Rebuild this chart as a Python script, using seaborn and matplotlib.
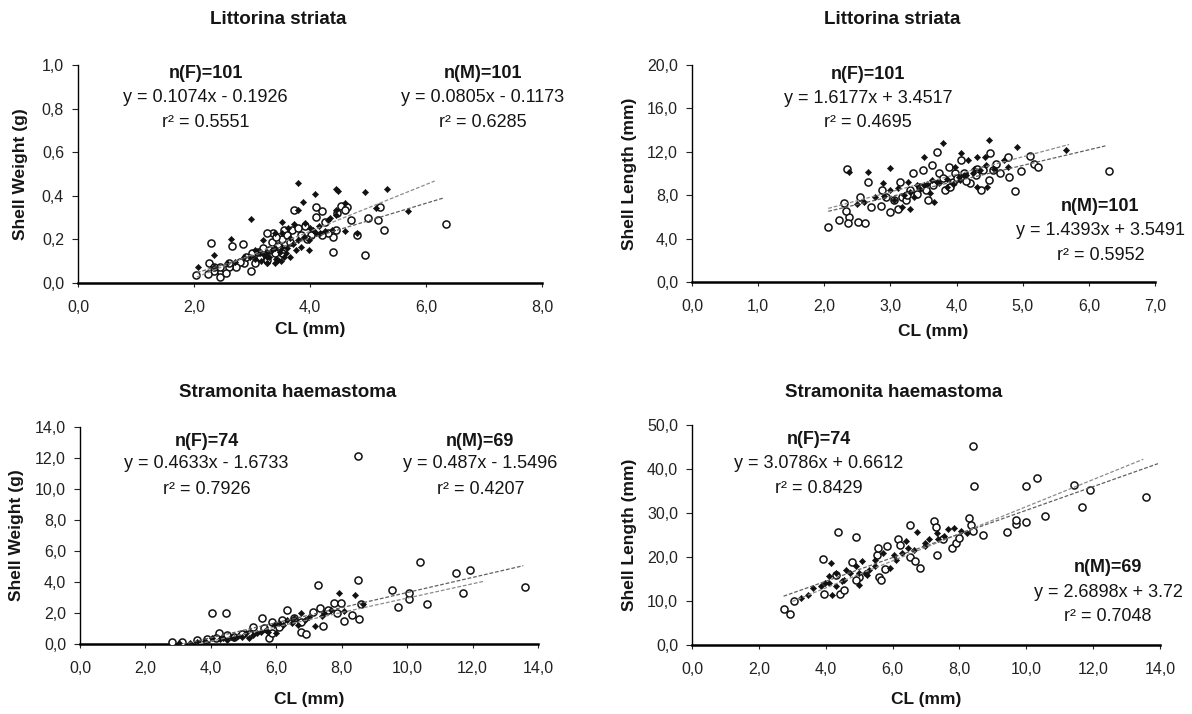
import numpy as np
import pandas as pd
import matplotlib
matplotlib.use("Agg")
import matplotlib.pyplot as plt
from matplotlib.ticker import FuncFormatter, MultipleLocator
import seaborn as sns

sns.set_theme(style="white")
plt.rcParams['font.family'] = ['Liberation Sans', 'DejaVu Sans']

# ---------------- DATA ----------------
# Panel A: Littorina striata, shell weight (g) vs CL (mm)
ls_w_M_x = [2.04, 2.26, 2.30, 2.34, 2.24, 2.47, 2.53, 2.65, 2.84, 2.86, 2.99, 3.05, 3.13, 3.26, 3.34, 3.36,
            3.52, 3.55, 3.72, 3.69, 3.85, 3.92, 4.10, 4.21, 4.25, 4.40, 4.40, 4.44, 4.47, 4.53, 4.64, 4.71,
            4.81, 4.94, 5.00, 5.17, 5.27, 5.20, 6.35, 4.61, 4.31, 3.42, 3.19, 3.65, 2.80, 2.73, 2.60, 2.44,
            2.60, 4.02, 4.11, 3.26, 3.52, 3.00, 3.39, 2.44, 3.10, 3.30, 3.45, 3.60, 3.80, 3.95, 4.20, 2.90,
            2.55, 2.35]
ls_w_M_y = [0.035, 0.09, 0.185, 0.055, 0.043, 0.05, 0.066, 0.17, 0.178, 0.09, 0.056, 0.09, 0.12, 0.105, 0.19, 0.23,
            0.20, 0.244, 0.333, 0.244, 0.22, 0.26, 0.35, 0.33, 0.28, 0.21, 0.14, 0.244, 0.32, 0.352, 0.35, 0.29,
            0.22, 0.13, 0.30, 0.29, 0.244, 0.35, 0.27, 0.336, 0.228, 0.213, 0.16, 0.19, 0.097, 0.074, 0.074, 0.074,
            0.09, 0.22, 0.305, 0.228, 0.136, 0.136, 0.136, 0.028, 0.14, 0.15, 0.17, 0.22, 0.25, 0.20, 0.22, 0.12,
            0.045, 0.075]
ls_w_F_x = [2.07, 2.34, 2.63, 2.98, 3.06, 3.26, 3.39, 3.52, 3.65, 3.80, 3.88, 3.80, 3.98, 4.08, 4.44, 4.49,
            4.61, 4.61, 4.94, 5.33, 5.69, 5.13, 3.62, 3.72, 3.92, 4.05, 4.18, 4.31, 3.52, 3.39, 3.26, 3.13,
            3.59, 3.85, 2.96, 2.86, 2.70, 2.57, 2.34, 3.26, 3.45, 3.65, 3.79, 3.98, 4.11, 4.38, 4.44, 3.39,
            3.19, 3.52, 4.81, 3.05, 3.15, 3.20, 3.30, 3.35, 3.42, 3.48, 3.55, 3.60, 3.70, 3.75, 3.90, 4.00,
            4.15, 4.25, 4.35, 4.45, 3.10, 3.25, 3.50]
ls_w_F_y = [0.074, 0.128, 0.20, 0.293, 0.15, 0.12, 0.09, 0.282, 0.12, 0.46, 0.37, 0.336, 0.15, 0.406, 0.432, 0.424,
            0.367, 0.24, 0.417, 0.432, 0.33, 0.344, 0.252, 0.272, 0.275, 0.244, 0.228, 0.29, 0.167, 0.159, 0.144, 0.136,
            0.136, 0.167, 0.12, 0.12, 0.097, 0.09, 0.074, 0.09, 0.105, 0.205, 0.198, 0.198, 0.228, 0.244, 0.336, 0.228,
            0.198, 0.228, 0.228, 0.11, 0.10, 0.13, 0.12, 0.15, 0.11, 0.14, 0.12, 0.16, 0.18, 0.15, 0.21, 0.25,
            0.26, 0.24, 0.30, 0.31, 0.14, 0.09, 0.10]

# Panel B: Littorina striata, shell length (mm) vs CL (mm)
ls_l_M_x = [2.06, 2.23, 2.30, 2.37, 2.36, 2.33, 2.34, 2.51, 2.62, 2.54, 2.66, 2.70, 2.86, 2.87, 3.00, 3.11,
            3.14, 3.17, 3.23, 3.34, 3.40, 3.49, 3.54, 3.63, 3.71, 3.74, 3.83, 3.89, 3.94, 4.06, 4.11, 4.20,
            4.37, 4.40, 4.49, 4.51, 4.60, 4.66, 4.77, 4.80, 4.89, 4.97, 5.11, 5.17, 5.23, 6.31, 3.57, 3.29,
            2.94, 4.31, 3.97, 3.05, 3.25, 3.45, 3.65, 3.80, 4.00, 4.15, 4.30, 4.55, 3.90]
ls_l_M_y = [5.08, 5.75, 7.3, 6.0, 5.4, 6.55, 10.37, 5.54, 5.48, 7.8, 9.23, 6.92, 7.0, 8.46, 6.46, 6.77,
            9.23, 7.85, 7.54, 10.06, 8.15, 10.3, 8.46, 10.77, 12.0, 10.0, 8.46, 10.6, 9.23, 11.23, 10.0, 9.08,
            8.46, 10.3, 9.38, 11.85, 10.9, 10.0, 11.5, 9.7, 8.4, 10.25, 11.6, 10.9, 10.6, 10.25, 7.54, 8.46,
            7.85, 10.46, 10.0, 7.6, 8.0, 8.8, 8.9, 9.6, 9.6, 9.3, 9.9, 10.3, 8.8]
ls_l_F_x = [2.37, 2.66, 3.00, 2.89, 3.29, 3.51, 3.66, 3.80, 4.06, 4.49, 4.91, 5.66, 3.86, 3.74, 4.03, 4.26,
            4.43, 4.31, 3.51, 3.40, 3.11, 3.00, 2.77, 2.60, 3.26, 3.63, 4.11, 4.57, 4.71, 4.77, 4.31, 3.97,
            2.49, 3.17, 4.17, 4.46, 3.20, 3.30, 3.45, 3.55, 3.70, 3.85, 3.95, 4.05, 4.15, 4.25, 4.35, 4.45,
            3.60, 3.35, 3.05, 2.90]
ls_l_F_y = [10.15, 10.15, 10.55, 9.08, 6.77, 11.54, 7.38, 12.77, 11.9, 13.08, 12.46, 12.2, 8.77, 9.08, 9.7, 10.46,
            11.54, 8.77, 8.92, 8.92, 8.62, 8.46, 7.85, 7.38, 9.23, 9.38, 9.85, 10.46, 11.23, 10.6, 11.54, 10.6,
            7.23, 6.92, 11.23, 8.77, 8.0, 8.3, 8.6, 9.0, 9.2, 9.5, 9.0, 9.4, 9.9, 10.0, 10.3, 10.8,
            8.2, 7.8, 7.6, 7.9]

# Panel C: Stramonita haemastoma, shell weight (g) vs CL (mm)
sh_w_M_x = [2.81, 3.13, 4.02, 4.46, 4.25, 4.50, 4.95, 5.55, 5.63, 5.77, 5.88, 6.18, 6.32, 6.54, 6.77, 6.91,
            7.28, 7.34, 7.43, 7.76, 7.97, 7.85, 8.08, 8.31, 8.51, 8.54, 8.50, 8.59, 9.53, 9.73, 10.05, 10.07,
            10.39, 10.62, 11.50, 11.93, 11.72, 13.60, 3.59, 3.87, 4.15, 4.72, 5.18, 6.09, 5.29, 5.86, 6.77,
            7.11, 7.57]
sh_w_M_y = [0.15, 0.15, 2.02, 2.02, 0.69, 0.58, 0.65, 1.70, 1.01, 0.37, 1.44, 1.55, 2.20, 1.66, 0.80, 0.65,
            3.83, 2.35, 1.16, 2.63, 2.67, 1.98, 1.51, 1.87, 4.13, 1.59, 12.10, 2.58, 3.49, 2.41, 2.89, 3.32,
            5.32, 2.58, 4.57, 4.78, 3.32, 3.66, 0.26, 0.30, 0.37, 0.47, 0.65, 1.12, 1.12, 0.69, 1.44,
            2.09, 2.20]
sh_w_F_x = [3.02, 3.36, 3.81, 4.04, 4.38, 4.61, 4.84, 5.06, 5.29, 5.52, 5.69, 5.98, 6.09, 6.32, 6.49, 6.66,
            6.77, 7.00, 7.17, 7.40, 7.68, 7.91, 8.08, 8.42, 8.65, 3.59, 4.27, 4.72, 4.95, 5.41, 5.75, 5.92,
            6.20, 6.54, 6.89, 7.45, 4.50, 5.18]
sh_w_F_y = [0.04, 0.09, 0.22, 0.37, 0.37, 0.47, 0.52, 0.69, 0.58, 0.80, 0.90, 0.69, 1.34, 1.55, 1.38, 1.23,
            1.98, 1.77, 1.16, 1.81, 2.20, 3.32, 2.15, 3.17, 2.56, 0.15, 0.30, 0.37, 0.47, 0.69, 0.80, 1.23,
            1.23, 1.66, 1.55, 1.98, 0.26, 0.37]

# Panel D: Stramonita haemastoma, shell length (mm) vs CL (mm)
sh_l_M_x = [2.74, 2.94, 3.04, 3.94, 3.93, 4.38, 4.90, 4.44, 4.55, 4.32, 4.79, 5.01, 4.90, 5.53, 5.59, 5.65,
            5.56, 5.82, 5.76, 6.16, 6.22, 6.51, 6.51, 6.68, 6.83, 7.24, 7.29, 7.34, 7.52, 7.78, 7.89, 8.00,
            8.30, 8.35, 8.41, 8.44, 8.41, 8.70, 9.42, 9.68, 9.68, 9.99, 9.99, 10.33, 10.56, 11.44, 11.67,
            11.90, 13.59]
sh_l_M_y = [8.14, 7.08, 9.9, 11.6, 19.6, 25.6, 24.5, 11.6, 12.6, 16.0, 18.8, 15.4, 14.8, 20.5, 15.4, 14.7,
            22.0, 22.5, 17.3, 24.1, 22.8, 27.2, 20.0, 19.0, 17.4, 28.2, 26.9, 20.5, 24.0, 22.1, 23.2, 24.4,
            28.9, 27.3, 45.3, 36.1, 25.9, 25.1, 25.6, 27.4, 28.5, 27.9, 36.1, 37.9, 29.4, 36.4, 31.4,
            35.2, 33.6]
sh_l_F_x = [3.26, 3.63, 3.86, 3.98, 4.09, 4.15, 4.20, 4.32, 4.49, 4.61, 4.72, 4.90, 5.01, 5.10, 5.18, 5.30,
            5.47, 5.70, 5.93, 6.10, 6.28, 6.45, 6.74, 6.97, 7.09, 7.37, 7.55, 7.66, 7.83, 8.06, 8.24, 4.09,
            4.55, 5.01, 5.47, 6.05, 6.63, 6.97, 3.46, 4.32, 5.24, 6.39, 7.32]
sh_l_F_y = [10.65, 12.9, 13.3, 14.1, 15.6, 18.6, 11.4, 13.3, 14.5, 17.1, 16.4, 17.9, 13.7, 19.0, 16.4, 17.1,
            17.9, 20.9, 17.5, 19.3, 20.9, 22.1, 25.7, 22.5, 24.0, 24.0, 24.7, 26.3, 26.6, 25.9, 25.5, 14.1,
            14.8, 16.4, 19.4, 20.5, 21.7, 23.2, 11.4, 16.4, 16.0, 23.6, 25.5]

# Trendline coefficients (slope, intercept) as printed on the chart, and the x-span of each trendline
fit_F = [(0.1074, -0.1926), (1.6177, 3.4517), (0.4633, -1.6733), (3.0786, 0.6612)]
fit_M = [(0.0805, -0.1173), (1.4393, 3.5491), (0.487, -1.5496), (2.6898, 3.72)]
span_F = [(2.05, 6.15), (2.06, 5.70), (2.80, 12.35), (3.00, 13.50)]
span_M = [(2.05, 6.32), (2.06, 6.25), (2.80, 13.55), (2.74, 13.94)]

n_F = ["n(F)=101", "n(F)=101", "n(F)=74", "n(F)=74"]
n_M = ["n(M)=101", "n(M)=101", "n(M)=69", "n(M)=69"]
eq_F = ["y = 0.1074x - 0.1926", "y = 1.6177x + 3.4517", "y = 0.4633x - 1.6733", "y = 3.0786x + 0.6612"]
eq_M = ["y = 0.0805x - 0.1173", "y = 1.4393x + 3.5491", "y = 0.487x - 1.5496", "y = 2.6898x + 3.72"]
r2_F = ["r² = 0.5551", "r² = 0.4695", "r² = 0.7926", "r² = 0.8429"]
r2_M = ["r² = 0.6285", "r² = 0.5952", "r² = 0.4207", "r² = 0.7048"]

titles = ["Littorina striata", "Littorina striata", "Stramonita haemastoma", "Stramonita haemastoma"]
ylabels = ["Shell Weight (g)", "Shell Length (mm)", "Shell Weight (g)", "Shell Length (mm)"]
xlabel = "CL (mm)"
xmax = [8, 7, 14, 14]
xstep = [2, 1, 2, 2]
ymax = [1.0, 20, 14, 50]
ystep = [0.2, 4, 2, 10]

# ---------------- LAYOUT ----------------
W, H = 1192, 714
fig = plt.figure(figsize=(W / 100, H / 100), dpi=100)
fig.patch.set_facecolor("white")

# pixel boxes (left, right, top, bottom)
boxes = [(78, 542, 65, 283), (692, 1155, 65, 282), (80, 538, 427, 644), (692, 1160, 425, 645)]
title_pos = [(278, 20), (892, 20), (288, 392), (894, 392)]
ylab_x = [28, 637, 24, 637]
xlab_top = [322, 324, 692, 692]

# annotation positions in axes fraction: (x, y_n, y_eq, y_r2)
annF = [(0.275, 0.96, 0.853, 0.738), (0.38, 0.958, 0.846, 0.734), (0.276, 0.934, 0.831, 0.711), (0.271, 0.936, 0.825, 0.711)]
annM = [(0.872, 0.96, 0.853, 0.738), (0.882, 0.35, 0.238, 0.123), (0.874, 0.934, 0.831, 0.711), (0.889, 0.353, 0.24, 0.129)]

M_x = [ls_w_M_x, ls_l_M_x, sh_w_M_x, sh_l_M_x]
M_y = [ls_w_M_y, ls_l_M_y, sh_w_M_y, sh_l_M_y]
F_x = [ls_w_F_x, ls_l_F_x, sh_w_F_x, sh_l_F_x]
F_y = [ls_w_F_y, ls_l_F_y, sh_w_F_y, sh_l_F_y]

comma = FuncFormatter(lambda v, p: f"{v:.1f}".replace(".", ","))
TXT = "#151515"
ANN = 13

for i in range(4):
    l, r, t, b = boxes[i]
    ax = fig.add_axes([l / W, 1 - b / H, (r - l) / W, (b - t) / H])
    ax.set_facecolor("white")

    dM = pd.DataFrame({"CL": M_x[i], "val": M_y[i]})
    dF = pd.DataFrame({"CL": F_x[i], "val": F_y[i]})

    sns.scatterplot(data=dM, x="CL", y="val", ax=ax, marker="o", s=26,
                    facecolor="white", edgecolor="#111111", linewidth=1.1, zorder=3)
    sns.scatterplot(data=dF, x="CL", y="val", ax=ax, marker="D", s=10,
                    color="#111111", edgecolor="#111111", linewidth=0.4, zorder=4)

    for (a, c), (x0, x1), col in [(fit_F[i], span_F[i], "#8c8c8c"), (fit_M[i], span_M[i], "#606060")]:
        xs = np.array([x0, x1])
        ax.plot(xs, a * xs + c, color=col, lw=0.9, ls=(0, (3, 1.5)), zorder=5)

    ax.set_xlim(0, xmax[i])
    ax.set_ylim(0, ymax[i])
    ax.xaxis.set_major_locator(MultipleLocator(xstep[i]))
    ax.yaxis.set_major_locator(MultipleLocator(ystep[i]))
    ax.xaxis.set_major_formatter(comma)
    ax.yaxis.set_major_formatter(comma)
    ax.tick_params(axis="x", direction="out", length=3, width=0.8, pad=9, labelsize=11.5, colors="#222222")
    ax.tick_params(axis="y", direction="out", length=4, width=0.8, pad=6, labelsize=11.5, colors="#222222")
    ax.tick_params(axis="both", bottom=True, left=True)
    for s in ["top", "right"]:
        ax.spines[s].set_visible(False)
    ax.spines["left"].set_color("black")
    ax.spines["left"].set_linewidth(1.0)
    ax.spines["bottom"].set_color("black")
    ax.spines["bottom"].set_linewidth(1.8)

    ax.set_xlabel(xlabel, fontsize=12.5, fontweight="bold", color=TXT)
    ax.set_ylabel(ylabels[i], fontsize=12.5, fontweight="bold", color=TXT)
    ax.xaxis.set_label_coords(0.5 if i != 1 else 0.52, (b - xlab_top[i]) / (b - t))
    ax.yaxis.set_label_coords((ylab_x[i] - l) / (r - l), 0.5)

    fx, fy1, fy2, fy3 = annF[i]
    ax.text(fx, fy1, n_F[i], transform=ax.transAxes, ha="center", va="center", fontsize=ANN, fontweight="bold", color=TXT)
    ax.text(fx, fy2, eq_F[i], transform=ax.transAxes, ha="center", va="center", fontsize=ANN, color=TXT)
    ax.text(fx, fy3, r2_F[i], transform=ax.transAxes, ha="center", va="center", fontsize=ANN, color=TXT)
    mx, my1, my2, my3 = annM[i]
    ax.text(mx, my1, n_M[i], transform=ax.transAxes, ha="center", va="center", fontsize=ANN, fontweight="bold", color=TXT)
    ax.text(mx, my2, eq_M[i], transform=ax.transAxes, ha="center", va="center", fontsize=ANN, color=TXT)
    ax.text(mx, my3, r2_M[i], transform=ax.transAxes, ha="center", va="center", fontsize=ANN, color=TXT)

    tx, ty = title_pos[i]
    fig.text(tx / W, 1 - ty / H, titles[i], ha="center", va="center", fontsize=13.5, fontweight="bold", color=TXT)

fig.savefig("out.png", dpi=100, facecolor="white")
